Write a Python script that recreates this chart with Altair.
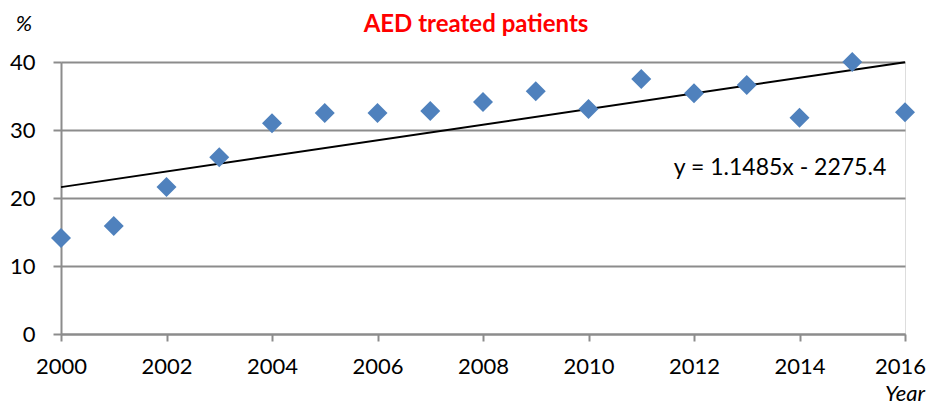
import altair as alt
import pandas as pd

years = list(range(2000, 2017))
aed_pct = [14.1, 15.9, 21.6, 26.0, 31.0, 32.5, 32.5, 32.8, 34.1, 35.7,
           33.1, 37.5, 35.4, 36.6, 31.8, 40.0, 32.6]
x_ticks = [2000, 2002, 2004, 2006, 2008, 2010, 2012, 2014, 2016]
y_ticks = [0, 10, 20, 30, 40]
trend_slope = 1.1485
trend_intercept = -2275.4
title_text = "AED treated patients"
equation_text = "y = 1.1485x - 2275.4"
y_unit = "%"
x_unit = "Year"

df = pd.DataFrame({"year": years, "pct": aed_pct})
trend_x = [years[0], years[-1]]
trend_df = pd.DataFrame({"year": trend_x,
                         "pct": [trend_slope * v + trend_intercept for v in trend_x]})

FONT = "Lato"
GRAY = "#8c8c8c"

xscale = alt.Scale(domain=[2000, 2016], nice=False, zero=False)
yscale = alt.Scale(domain=[0, 40], nice=False)

xaxis = alt.Axis(values=x_ticks, format="d", title=None, grid=False,
                 domainColor=GRAY, domainWidth=2, tickColor=GRAY, tickWidth=2,
                 tickSize=7, labelFont=FONT, labelFontSize=22, labelColor="black",
                 labelPadding=15, labelFlush=False, labelOverlap=False,
                 labelOffset={"condition": {"test": "datum.value == 2016", "value": -5},
                              "value": 0})
yaxis = alt.Axis(values=y_ticks, title=None, grid=True, gridColor=GRAY, gridWidth=2,
                 domainColor=GRAY, domainWidth=2, tickColor=GRAY, tickWidth=2,
                 tickSize=8, labelFont=FONT, labelFontSize=22, labelColor="black",
                 labelPadding=18)

points = alt.Chart(df).mark_point(shape="diamond", filled=True, size=400,
                                  color="#4F81BD", opacity=1).encode(
    x=alt.X("year:Q", scale=xscale, axis=xaxis),
    y=alt.Y("pct:Q", scale=yscale, axis=yaxis),
)

trend = alt.Chart(trend_df).mark_line(color="black", strokeWidth=2).encode(
    x=alt.X("year:Q", scale=xscale),
    y=alt.Y("pct:Q", scale=yscale),
)

ann = pd.DataFrame({"t": [0]})
title = alt.Chart(ann).mark_text(text=title_text, font=FONT, fontSize=24,
                                 fontWeight="bold", color="#ff0000",
                                 align="center", baseline="alphabetic").encode(
    x=alt.value(415), y=alt.value(-30))
pct_lab = alt.Chart(ann).mark_text(text=y_unit, font=FONT, fontSize=22,
                                   fontStyle="italic", color="black",
                                   align="center", baseline="alphabetic").encode(
    x=alt.value(-37), y=alt.value(-31))
year_lab = alt.Chart(ann).mark_text(text=x_unit, font=FONT, fontSize=22,
                                    fontStyle="italic", color="black",
                                    align="right", baseline="alphabetic").encode(
    x=alt.value(864), y=alt.value(339))
eq_lab = alt.Chart(ann).mark_text(text=equation_text, font=FONT, fontSize=23,
                                  color="black", align="center",
                                  baseline="alphabetic").encode(
    x=alt.value(719), y=alt.value(113))

chart = alt.layer(trend, points, title, pct_lab, year_lab, eq_lab).properties(
    width=844, height=272,
    autosize=alt.AutoSizeParams(type="none"),
    padding={"left": 53, "top": 54, "right": 21, "bottom": 73},
).configure_view(stroke=None).configure(background="white")

chart.save("out.html", embed_options={"renderer": "svg", "actions": False})
